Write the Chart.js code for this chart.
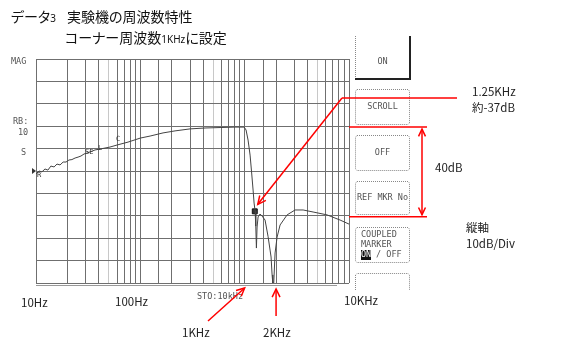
<!DOCTYPE html>
<html lang="ja">
<head>
<meta charset="UTF-8">
<title>実験機の周波数特性</title>
<style>
  html, body { margin: 0; padding: 0; background: #fff; }
  #wrap { position: relative; width: 565px; height: 358px; }
  canvas { display: block; }
  .title {
    position: absolute; left: 0; top: 0;
    font-family: "Noto Sans CJK JP", sans-serif; font-size: 14px; color: #111;
    font-feature-settings: "palt"; white-space: nowrap; line-height: 1;
  }
  .title span.s { font-family: "Noto Sans", sans-serif; font-size: 10px; }
</style>
<script src="https://cdn.jsdelivr.net/npm/chart.js"></script>
</head>
<body>
<div id="wrap">
  <canvas id="freqChart" width="565" height="358"></canvas>
  <div class="title" style="left:11px; top:9px;">データ<span class="s">3</span></div>
  <div class="title" style="left:67px; top:9px;">実験機の周波数特性</div>
  <div class="title" style="left:65px; top:30px;">コーナー周波数<span class="s">1KHz</span>に設定</div>
</div>

<script>
// 周波数特性 (画面から読み取った値)
const freqHz  = [10, 10.7, 11.4, 12.2, 13, 13.9, 14.9, 15.9, 17, 18.2, 19.4, 20.7, 22.1, 23.7, 25.3, 27,
                 28.9, 30.8, 32.9, 36.8, 41.1, 51.2, 59.8, 76.2, 100, 124, 165, 215, 300, 417, 581, 809,
                 990, 1031, 1078, 1127, 1167, 1204, 1231, 1259, 1278, 1296, 1315, 1345, 1405, 1468, 1568,
                 1677, 1752, 1791, 1832, 1860, 1900, 1957, 2045, 2185, 2550, 3042, 3631, 4527, 6166, 8217, 10000];
const levelDb = [-51.3, -50.0, -50.4, -49.1, -49.6, -47.8, -48.2, -46.9, -47.3, -46.0, -46.0, -45.1, -44.9, -44.2, -43.8, -43.3,
                 -42.4, -42.0, -41.5, -40.6, -40.2, -39.3, -38.4, -37.1, -35.3, -34.4, -33.0, -32.1, -31.2, -30.8, -30.6, -30.4,
                 -30.4, -31.7, -36.2, -42.9, -50.9, -58.5, -64.3, -67.9, -74.6, -84.4, -75.0, -70.5, -69.2, -70.1, -71.9,
                 -79.3, -85.3, -88.4, -96.4, -100, -100, -86.6, -79.5, -74.1, -69.6, -67.4, -67.4, -68.3, -69.6, -71.9, -73.7];

// マーカー (1.25KHz)
const markerHz = [1250];
const markerDb = [-68];

// 通過帯域レベルと 40dB の幅
const refDb = -30.4;
const spanDb = 40;

// ソフトキー表示
const softKeys = [['ON'], ['SCROLL'], ['OFF'], ['REF MKR No'], ['COUPLED', 'MARKER', 'ON / OFF'], []];

function gridColor(ctx) {
  const v = ctx.tick ? ctx.tick.value : 0;
  if (!v) return '#6f6f6f';
  const m = Math.round(v / Math.pow(10, Math.floor(Math.log10(v) + 1e-9)));
  return m === 5 ? '#c8c8c8' : '#6f6f6f';
}

function drawArrow(c, x1, y1, x2, y2, head) {
  c.beginPath(); c.moveTo(x1, y1); c.lineTo(x2, y2); c.stroke();
  const ang = Math.atan2(y2 - y1, x2 - x1);
  c.beginPath();
  c.moveTo(x2 - head * Math.cos(ang - 0.45), y2 - head * Math.sin(ang - 0.45));
  c.lineTo(x2, y2);
  c.lineTo(x2 - head * Math.cos(ang + 0.45), y2 - head * Math.sin(ang + 0.45));
  c.stroke();
}

function monoText(c, txt, x, y, align) {
  c.font = '8.5px "DejaVu Sans Mono"';
  c.fillStyle = '#555';
  c.textAlign = align || 'left';
  c.textBaseline = 'middle';
  c.fillText(txt, x, y);
}

function label(c, txt, x, y) {
  c.font = '11.5px "Noto Sans CJK JP"';
  c.fillStyle = '#222';
  c.textAlign = 'left';
  c.textBaseline = 'middle';
  c.fillText(txt, x, y);
}

const overlayPlugin = {
  id: 'overlay',
  beforeDraw(chart) {
    const c = chart.ctx;
    c.save();
    c.fillStyle = '#fff';
    c.fillRect(0, 0, chart.width, chart.height);
    c.restore();
  },
  afterDraw(chart) {
    const c = chart.ctx, a = chart.chartArea;
    const xs = chart.scales.x, ys = chart.scales.y;
    c.save();

    // 下側の二重線
    c.strokeStyle = '#999'; c.lineWidth = 1;
    c.beginPath(); c.moveTo(a.left, a.bottom + 2.5); c.lineTo(337, a.bottom + 2.5); c.stroke();

    // 画面の文字
    monoText(c, 'MAG', 11, 62);
    monoText(c, 'RB:', 13, 122);
    monoText(c, '10', 18, 133);
    monoText(c, 'S', 21, 153);
    monoText(c, 'STO:10kHz', 197, 297);
    c.fillStyle = '#333';
    c.beginPath(); c.moveTo(32, 168); c.lineTo(36, 171); c.lineTo(32, 174); c.fill();
    c.font = '7px "DejaVu Sans Mono"'; c.fillText('R', 37, 175);
    c.fillText('SE', 85, 152); c.fillText('L', 98, 148); c.fillText('C', 116, 139);

    // ソフトキー
    const keyTops = [36, 89, 135, 181, 227, 273];
    const keyBots = [79, 125, 171, 215, 263, 290];
    const kx = 355, kw = 55;
    softKeys.forEach((lines, i) => {
      const t = keyTops[i], b = keyBots[i];
      c.strokeStyle = '#888'; c.lineWidth = 1; c.setLineDash([1, 1]);
      c.beginPath();
      if (i === 0) {
        c.moveTo(kx + 0.5, t); c.lineTo(kx + 0.5, b);
        c.stroke(); c.setLineDash([]);
        c.strokeStyle = '#222'; c.lineWidth = 2;
        c.beginPath(); c.moveTo(kx, b); c.lineTo(kx + kw, b); c.lineTo(kx + kw, t); c.stroke();
      } else if (i === softKeys.length - 1) {
        c.moveTo(kx + 0.5, b); c.lineTo(kx + 0.5, t + 2); c.lineTo(kx + 2, t + 0.5);
        c.lineTo(kx + kw - 2, t + 0.5); c.lineTo(kx + kw - 0.5, t + 2); c.lineTo(kx + kw - 0.5, b);
        c.stroke();
      } else {
        c.moveTo(kx + 2, t + 0.5); c.lineTo(kx + kw - 2, t + 0.5); c.lineTo(kx + kw - 0.5, t + 2);
        c.lineTo(kx + kw - 0.5, b - 2); c.lineTo(kx + kw - 2, b - 0.5); c.lineTo(kx + 2, b - 0.5);
        c.lineTo(kx + 0.5, b - 2); c.lineTo(kx + 0.5, t + 2); c.closePath();
        c.stroke();
      }
      c.setLineDash([]);
      const mid = (t + b) / 2;
      if (lines.length === 1) {
        monoText(c, lines[0], kx + kw / 2, i === 0 ? 62 : mid, 'center');
      } else if (lines.length === 3) {
        monoText(c, lines[0], kx + 6, 235);
        monoText(c, lines[1], kx + 6, 245);
        c.fillStyle = '#111'; c.fillRect(kx + 6, 250, 10, 10);
        c.font = '8.5px "DejaVu Sans Mono"'; c.fillStyle = '#fff'; c.textAlign = 'left';
        c.fillText('ON', kx + 6, 255);
        monoText(c, ' / OFF', kx + 16, 255);
      }
    });

    // 赤い注記
    c.strokeStyle = '#ff0000'; c.lineWidth = 1.5;
    const mx = xs.getPixelForValue(markerHz[0]), my = ys.getPixelForValue(markerDb[0]);
    const tipX = mx + 3, tipY = my - 7;
    const elbowX = a.right - 7, elbowY = 98;
    c.beginPath(); c.moveTo(457, elbowY); c.lineTo(elbowX, elbowY); c.stroke();
    drawArrow(c, elbowX, elbowY, tipX, tipY, 9);

    const y1 = ys.getPixelForValue(refDb), y2 = ys.getPixelForValue(refDb - spanDb);
    c.beginPath();
    c.moveTo(a.right, y1); c.lineTo(427, y1);
    c.moveTo(a.right, y2); c.lineTo(427, y2);
    c.stroke();
    drawArrow(c, 422, (y1 + y2) / 2, 422, y1 + 2, 8);
    drawArrow(c, 422, (y1 + y2) / 2, 422, y2 - 2, 8);

    const k1 = xs.getPixelForValue(1000), k2 = xs.getPixelForValue(2000);
    drawArrow(c, 208, 321, k1, a.bottom + 5, 9);
    drawArrow(c, k2, 316, k2, a.bottom + 6, 9);

    // 文字
    label(c, '1.25KHz', 472, 92);
    label(c, '約-37dB', 472, 108);
    label(c, '40dB', 435, 168);
    label(c, '縦軸', 466, 228);
    label(c, '10dB/Div', 466, 244);
    label(c, '10Hz', 21, 303);
    label(c, '100Hz', 115, 302);
    label(c, '10KHz', 344, 301);
    label(c, '1KHz', 182, 333);
    label(c, '2KHz', 263, 333);

    c.restore();
  }
};

new Chart(document.getElementById('freqChart'), {
  type: 'line',
  data: {
    datasets: [{
      data: freqHz.map((f, i) => ({ x: f, y: levelDb[i] })),
      borderColor: '#444',
      borderWidth: 1,
      pointRadius: 0,
      tension: 0
    }, {
      data: markerHz.map((f, i) => ({ x: f, y: markerDb[i] })),
      showLine: false,
      pointStyle: 'rect',
      pointRadius: 3.5,
      backgroundColor: '#333',
      borderColor: '#111'
    }]
  },
  options: {
    responsive: false,
    animation: false,
    layout: { padding: { left: 36, top: 59, right: 216, bottom: 75 } },
    plugins: { legend: { display: false }, tooltip: { enabled: false } },
    scales: {
      x: {
        type: 'logarithmic', min: 10, max: 10000,
        ticks: { display: false },
        grid: { drawTicks: false, color: gridColor },
        border: { display: false }
      },
      y: {
        type: 'linear', min: -100, max: 0,
        ticks: { display: false, stepSize: 10 },
        grid: { drawTicks: false, color: '#6f6f6f' },
        border: { display: false }
      }
    }
  },
  plugins: [overlayPlugin]
});
</script>
</body>
</html>
